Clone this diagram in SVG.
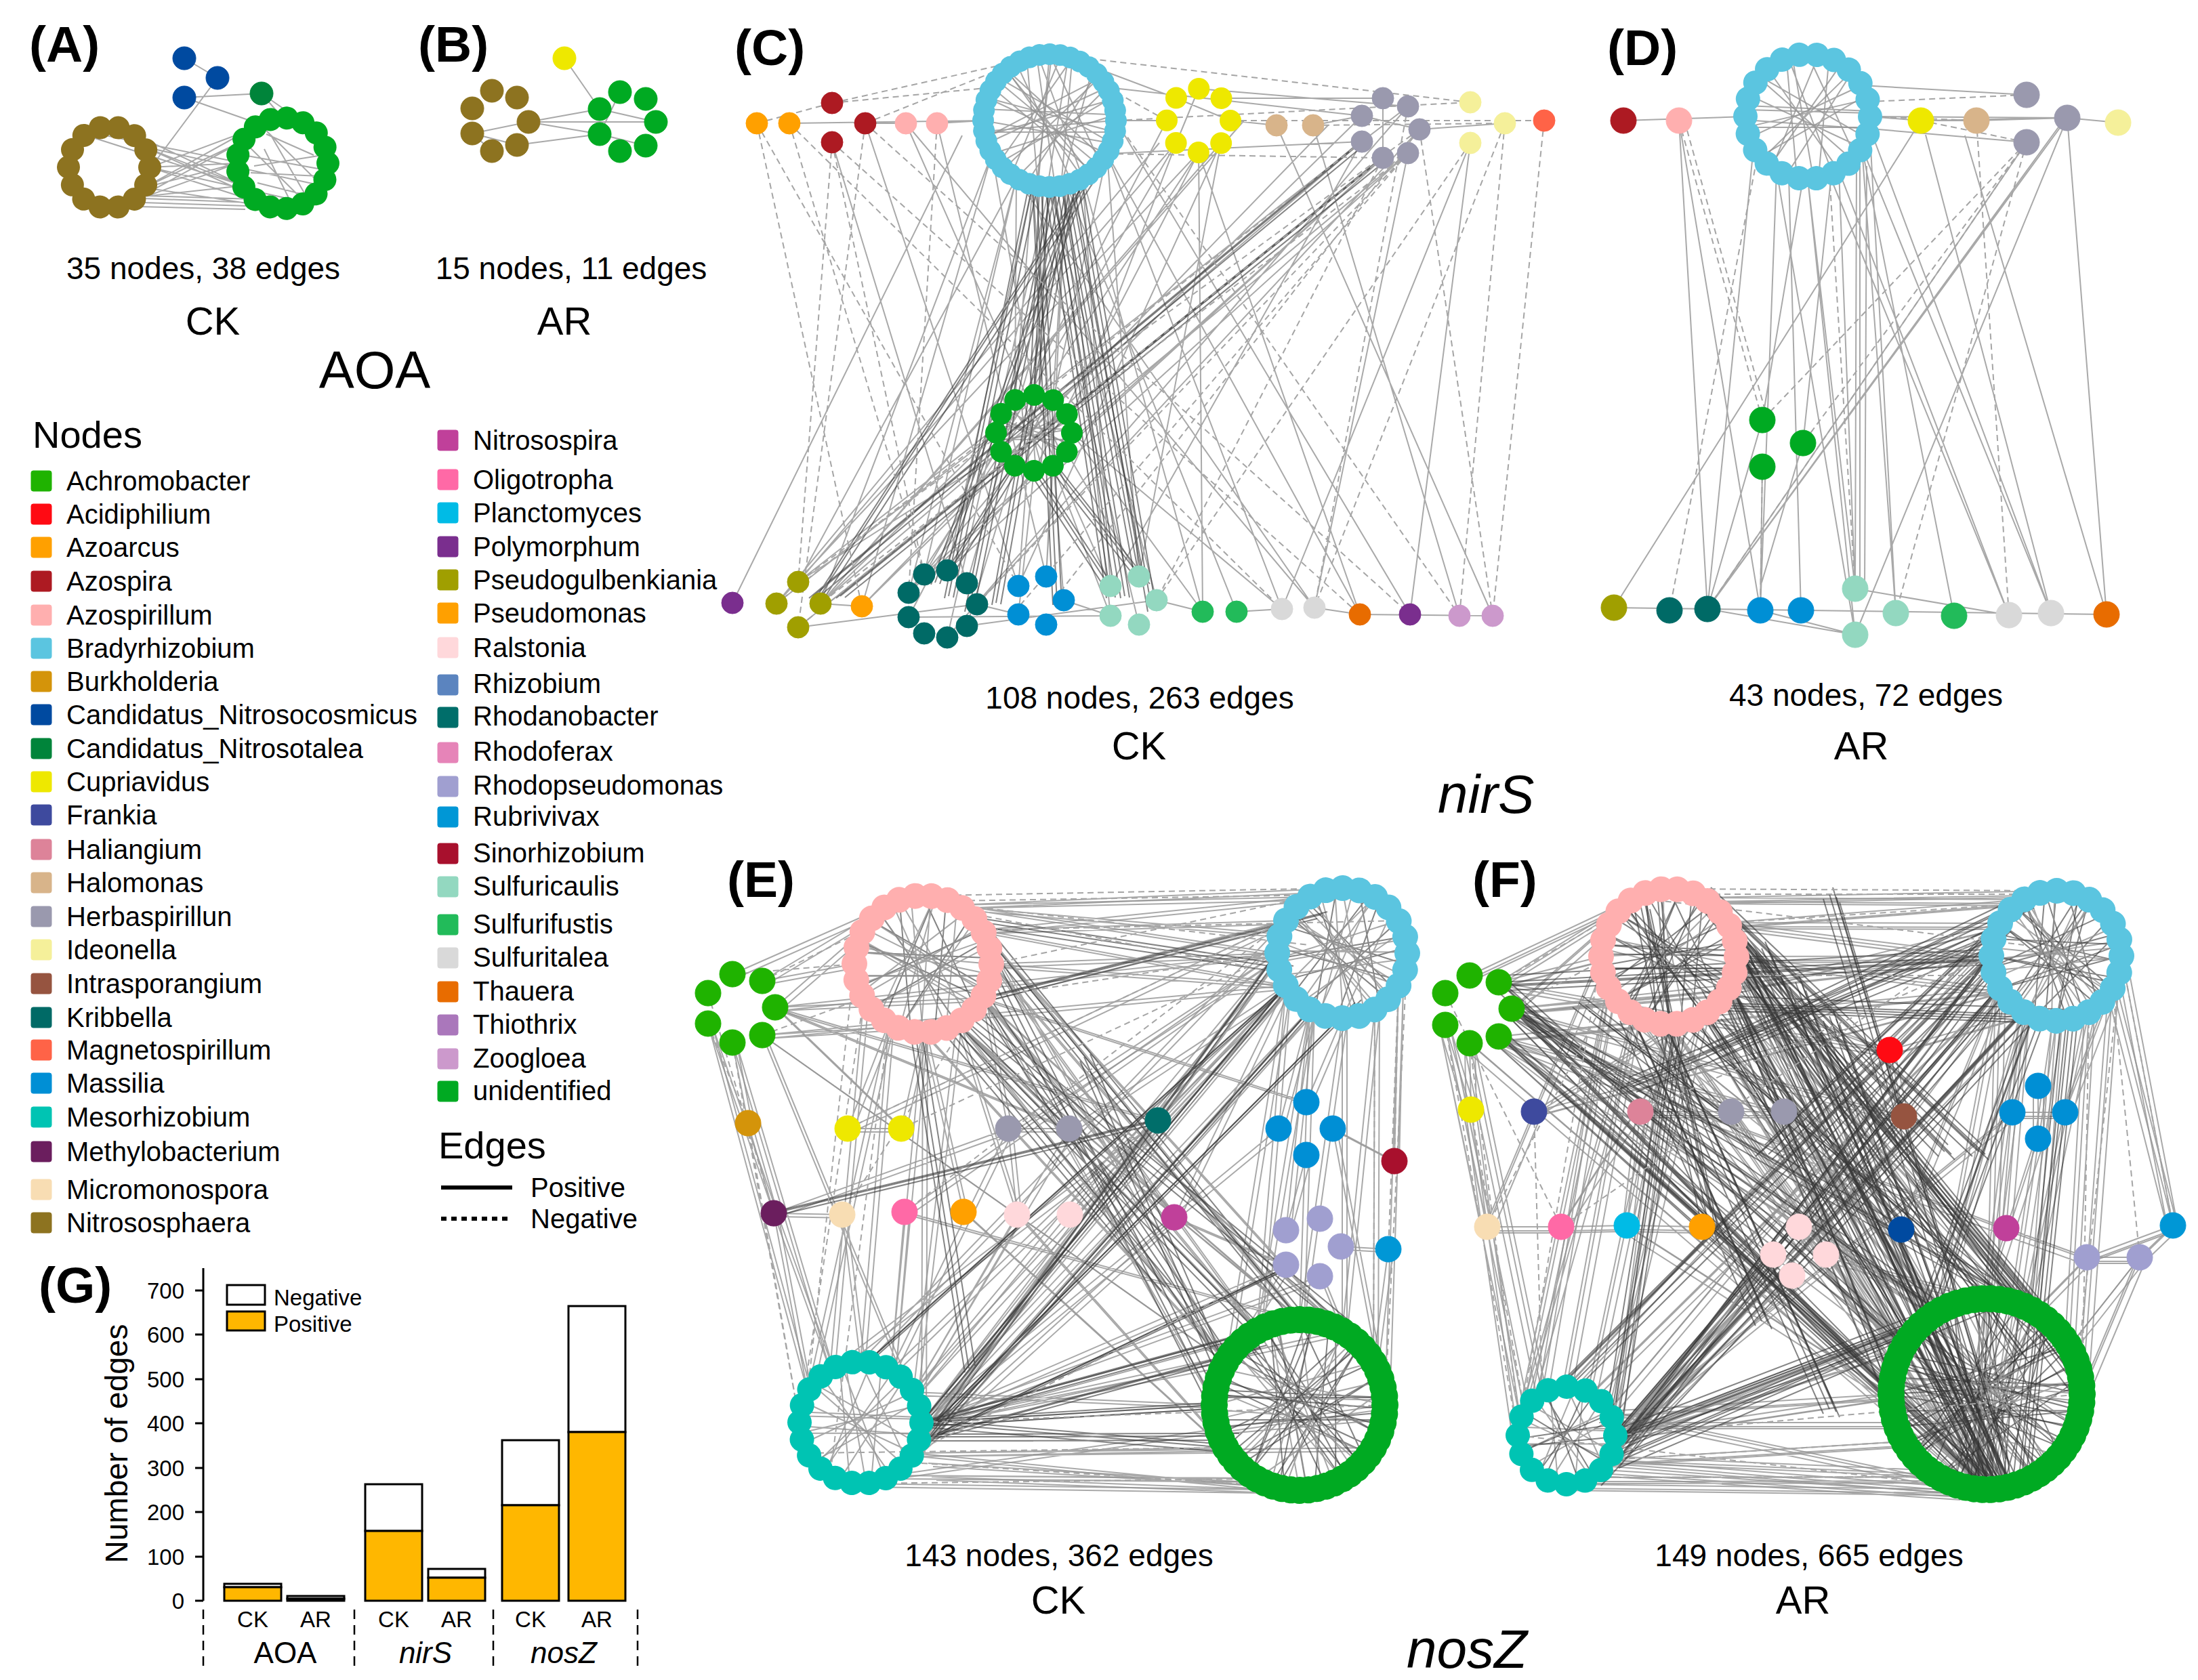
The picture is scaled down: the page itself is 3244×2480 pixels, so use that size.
<svg xmlns="http://www.w3.org/2000/svg" xmlns:xlink="http://www.w3.org/1999/xlink" width="3244" height="2480" viewBox="0 0 3244 2480">
<style>
text{font-family:"Liberation Sans",Arial,Helvetica,sans-serif;fill:#000}
.lab{font-size:75px;font-weight:bold}
.cap{font-size:46px;text-anchor:middle}
.trt{font-size:58px;text-anchor:middle}
.gene{font-size:80px;font-style:italic}
.lg{font-size:40px}
.hd{font-size:56px}
.ax{font-size:33px}
.e{stroke:#939393;stroke-width:2;fill:none;opacity:.8}
.d{stroke:#333;stroke-width:2;fill:none;opacity:.6}
.n{stroke:#a5a5a5;stroke-width:2;fill:none;stroke-dasharray:9 6}
.ach{fill:#1FB300;stroke:#1FB300}.aci{fill:#FF0A13;stroke:#FF0A13}.azo{fill:#FFA000;stroke:#FFA000}.azs{fill:#AD1A22;stroke:#AD1A22}
.azl{fill:#FFAFAF;stroke:#FFAFAF}.bra{fill:#5BC5E0;stroke:#5BC5E0}.bur{fill:#D4940A;stroke:#D4940A}.cnc{fill:#004AA0;stroke:#004AA0}
.cnt{fill:#00843A;stroke:#00843A}.cup{fill:#EEE800;stroke:#EEE800}.fra{fill:#3E4A9E;stroke:#3E4A9E}.hal{fill:#DD8399;stroke:#DD8399}
.hmo{fill:#D8B48A;stroke:#D8B48A}.her{fill:#9A99AE;stroke:#9A99AE}.ide{fill:#F5F09A;stroke:#F5F09A}.int{fill:#965440;stroke:#965440}
.kri{fill:#006A66;stroke:#006A66}.mag{fill:#FF6347;stroke:#FF6347}.mas{fill:#008FD5;stroke:#008FD5}.mes{fill:#00C4B3;stroke:#00C4B3}
.met{fill:#6B1E5E;stroke:#6B1E5E}.mic{fill:#F8DDB3;stroke:#F8DDB3}.nsp{fill:#8D7320;stroke:#8D7320}.nsi{fill:#C0409A;stroke:#C0409A}
.oli{fill:#FF69A6;stroke:#FF69A6}.pla{fill:#00BBE6;stroke:#00BBE6}.pol{fill:#7A2E8E;stroke:#7A2E8E}.psg{fill:#A09F00;stroke:#A09F00}
.psm{fill:#FFA000;stroke:#FFA000}.ral{fill:#FFD8DB;stroke:#FFD8DB}.rhi{fill:#5B84BF;stroke:#5B84BF}.rhd{fill:#006E6A;stroke:#006E6A}
.rfx{fill:#E684B8;stroke:#E684B8}.rps{fill:#A09FD0;stroke:#A09FD0}.rub{fill:#0097D6;stroke:#0097D6}.sin{fill:#A8102D;stroke:#A8102D}
.sca{fill:#93D8C0;stroke:#93D8C0}.sfu{fill:#22BB5A;stroke:#22BB5A}.sta{fill:#D9D9D9;stroke:#D9D9D9}.tha{fill:#E86C00;stroke:#E86C00}
.thi{fill:#AA77BB;stroke:#AA77BB}.zoo{fill:#CC99CC;stroke:#CC99CC}.uni{fill:#00AA22;stroke:#00AA22}
.ring{fill:none;stroke-linecap:round}
.bar{stroke:#000;stroke-width:3}
</style>
<defs>
<path id="chords" vector-effect="non-scaling-stroke" d="M0 -1L.766 .643M.342 -.94L.174 .985M.707 -.707L-.342 .94M.94 -.342L-.766 .643M.985 .174L-.985 .174M.866 .5L-.94 -.342M.5 .866L-.643 -.766M-.174 .985L-.342 -.94M-.574 .819L.174 -.985M-.94 .342L.866 -.5M-.985 -.174L.996 -.087M-.766 -.643L.94 .342"/>
<path id="chords2" vector-effect="non-scaling-stroke" d="M-.9 -.43L.82 .57M-.3 -.95L.22 .97M.6 -.8L-.72 .69M.95 .28L-.9 -.36M-.1 -.99L.05 1M.4 -.91L-.5 .86M-.97 .2L.99 -.1M.78 -.62L-.6 .8"/>
</defs>
<rect width="3244" height="2480" fill="#fff"/>

<g id="labels">
<text class="lab" x="43" y="91">(A)</text>
<text class="lab" x="617" y="91">(B)</text>
<text class="lab" x="1084" y="96">(C)</text>
<text class="lab" x="2372" y="96">(D)</text>
<text class="lab" x="1073" y="1324">(E)</text>
<text class="lab" x="2173" y="1324">(F)</text>
<text class="lab" x="57" y="1923">(G)</text>
<text class="cap" x="300" y="412">35 nodes, 38 edges</text>
<text class="cap" x="843" y="412">15 nodes, 11 edges</text>
<text class="trt" x="314" y="494">CK</text>
<text class="trt" x="833" y="494">AR</text>
<text x="553" y="573" style="font-size:78px;text-anchor:middle">AOA</text>
<text class="cap" x="1682" y="1046">108 nodes, 263 edges</text>
<text class="trt" x="1681" y="1121">CK</text>
<text class="cap" x="2754" y="1042">43 nodes, 72 edges</text>
<text class="trt" x="2747" y="1121">AR</text>
<text class="gene" x="2122" y="1200">nirS</text>
<text class="cap" x="1563" y="2312">143 nodes, 362 edges</text>
<text class="trt" x="1562" y="2382">CK</text>
<text class="cap" x="2670" y="2312">149 nodes, 665 edges</text>
<text class="trt" x="2661" y="2382">AR</text>
<text class="gene" x="2076" y="2462">nosZ</text>
</g>

<g id="connectors">
<g id="edges-A">
<path class="e" d="M272 86L321 115M321 115L228 240M272 144L386 138M272 144L383 183M386 138L417 174M386 138L451 183M221 247L350 241M213 217L359 274M213 277L359 208M221 247L383 299M191 195L359 274M213 277L350 241M140 204L359 274M191 299L359 208M213 277L417 308M213 293L370 299M210 299L365 304M205 305L362 309M213 289L375 294M221 247L451 299M213 217L475 274M131 195L359 241M383 183L475 274M359 208L451 299M393 198L463 229M375 245L470 230M370 255L470 260M380 270L460 290M390 220L430 300M400 200L455 295M365 230L475 250M213 277L383 183M191 299L350 241M221 247L417 174M131 299L359 274M213 217L417 308"/>
</g>
<g id="edges-B">
<path class="e" d="M833 86L885 161M780 180L885 161M780 180L968 180M780 180L885 198M697 197L780 180M697 197L763 214M763 214L885 198M885 161L968 180M885 198L953 215M915 136L885 198M726 223L697 197"/>
</g>
<g id="edges-C">
<path id="Ce" class="e" d="M1165 182L1451 178M1277 182L1337 182M1383 182L1451 178M1647 178L1722 178M1816 178L1884 185M1938 185L2010 171M1634 129L2010 171M1634 227L2010 209M1769 131L2078 157M2095 191L2221 182M1598 93L1736 145M1802 145L2041 145M1500 263L1364 848M1524 273L1398 842M1549 276L1503 865M1574 273L1544 851M1598 263L1639 865M1634 227L1681 851M1524 273L1681 922M1549 276L1707 886M1500 263L1178 859M1464 227L1211 891M1598 263L1775 903M1574 273L1825 903M1634 227L1892 899M1549 276L1526 583M1524 273L1498 591M1574 273L1554 591M1500 263L1341 875M1598 263L1427 861M1549 276L1398 941M1574 273L1639 909M1524 273L1570 886M1464 227L1272 895M1634 227L2007 907M1647 178L2081 907M1736 211L1364 848M1769 225L1341 875M1736 211L1178 859M1769 225L1146 891M1802 211L1503 865M1722 178L1341 911M1769 225L1526 695M1736 211L1554 687M1802 211L1681 851M1769 225L1775 903M2010 209L1178 859M2010 209L1211 891M2041 233L1341 875M2041 233L1364 848M2078 226L1398 842M2010 171L1272 895M2095 191L1442 892M2078 226L1582 639M2041 233L1574 611M2010 209L1639 865M2078 226L1940 897M2170 211L1892 899M2170 211L2081 907M1938 185L2154 909M1884 185L2203 909M1769 225L2007 907M1277 182L1503 865M1337 182L1639 865M1383 182L1544 851M1228 210L1427 861M1081 890L1420 200M1526 695L1398 842M1498 687L1341 875M1554 687L1544 851M1574 667L1681 851M1478 667L1178 859M1470 639L1211 891M1582 639L1775 903M1554 687L1639 909M1526 695L1503 907M1498 687L1427 924M1582 639L1892 899M1470 639L1146 891M1526 583L1464 227M1554 591L1634 227M1498 591L1500 263M1337 182L1940 897M1178 926L1442 892M1211 891L1272 895M1442 892L1503 907M1570 886L1639 909M1707 886L1775 903M1825 903L1892 899M1940 897L2007 907M2007 907L2203 909M1341 911L1639 909M1427 924L1707 886M1211 891L1802 211M1178 926L2041 233M1398 941L2078 157M1940 897L1500 263M1736 145L1816 178M1769 131L1736 211M2041 145L2041 233M2010 171L2095 191M2078 157L2010 209M1146 891L1711 211M1211 891L1836 178M1272 895L1960 185M1178 859L1500 263"/>
<use class="e" xlink:href="#chords" href="#chords" transform="translate(1549 178) scale(98)"/>
<use class="e" xlink:href="#chords" href="#chords" transform="translate(1549 178) scale(98) rotate(40)"/>
<use class="e" xlink:href="#chords2" href="#chords2" transform="translate(1549 178) scale(98) rotate(-35)"/>
<use class="e" xlink:href="#chords" href="#chords" transform="translate(1526 639) scale(56)"/>
<use class="e" xlink:href="#chords2" href="#chords2" transform="translate(1526 639) scale(56)"/>
<path id="Cd" class="d" d="M1549 276L1639 880M1560 276L1660 880M1540 276L1526 583M1524 273L1400 880M1574 273L1681 851M1600 260L1380 860M1526 695L1640 870M1498 687L1400 845M1554 687L1690 860M1650 200L1210 880M2010 209L1200 880M2041 233L1240 880M1530 276L1560 890M1580 270L1470 890M1560 270L1430 900M1590 265L1700 900"/>
<use xlink:href="#Cd" href="#Cd" transform="translate(7,2)"/>
<use xlink:href="#Cd" href="#Cd" transform="translate(-6,3)"/>
<path class="n" d="M1117 182L1272 895M1165 182L1364 848M1228 210L1178 859M1228 152L1464 129M1277 182L1500 93M1228 152L1549 80M1228 210L2007 907M1277 182L2081 907M1165 182L1892 899M1117 182L1503 865M2279 178L2203 909M2221 182L2154 909M2170 211L1707 886M2221 182L1940 897M1647 178L2154 909M2010 209L1146 891M2041 233L1178 926M2078 226L1211 891M2095 191L1178 859M2078 226L1442 892M1647 178L2170 151M1549 80L2170 151M1634 227L2041 233M1722 178L1634 129M1816 178L2279 178M1938 185L2221 182M1383 182L1341 875M1228 210L1364 848M1277 182L1178 926M2078 157L1940 897M2095 191L2203 909M2041 233L1707 886M2078 226L1500 900M2095 191L1560 880M1117 182L1228 152"/>
</g>
<g id="edges-D">
<path class="e" d="M2396 178L2576 172M2760 172L2835 178M2835 178L2917 178M2748 126L2991 140M2760 172L3051 174M2917 178L3051 174M2835 178L3051 174M3051 174L3126 181M2991 210L2760 190M2478 178L2598 901M2478 178L2520 899M2622 252L2598 901M2640 260L2658 901M2668 264L2738 937M2668 264L2738 869M2714 252L2738 869M2740 240L2738 869M2748 218L2798 905M2760 200L2798 905M2714 252L2965 908M2748 218L3027 905M2760 190L3027 905M2842 199L3027 905M2900 200L3109 907M3051 174L2520 899M3040 185L2520 899M2991 210L2520 899M3051 174L2738 937M2382 897L2835 178M2601 620L2660 270M2661 654L2703 257M2601 689L2598 901M2661 654L2600 860M2601 620L2520 899M2382 897L3109 907M2520 899L2738 937M2738 869L2965 908M2588 218L2520 899M2622 252L2738 937M2748 218L2884 909M2700 258L2965 908M3051 174L3109 907M2745 245L2745 869M2755 245L2752 869M2598 901L2738 937"/>
<use class="e" xlink:href="#chords" href="#chords" transform="translate(2668 172) scale(92)"/>
<use class="e" xlink:href="#chords2" href="#chords2" transform="translate(2668 172) scale(92) rotate(50)"/>
<path class="n" d="M2478 178L2601 620M2486 178L2609 620M2590 250L2464 901M2601 689L2598 901M2700 258L2738 869M2991 210L2601 620M2991 210L2661 654M2917 178L2965 908M2760 172L2917 178M2991 140L2760 150M2835 178L2991 210M2991 210L2798 905M2991 210L2520 899"/>
</g>
<g id="edges-E">
<path id="Ee" class="e" d="M1412 1336L1933 1324M1449 1373L1898 1359M1412 1336L1981 1311M1463 1423L1885 1407M1449 1373L1933 1324M1430 1340L1900 1380M1449 1473L1898 1359M1463 1423L1898 1455M1412 1336L1885 1407M1449 1373L1898 1455M1449 1473L1855 1965M1412 1510L1809 2011M1463 1423L1918 1948M1449 1473L1792 2074M1412 1510L1855 1965M1362 1524L1809 2011M1449 1373L1809 2011M1463 1423L1855 1965M1412 1336L1981 1965M1449 1473L1981 1965M1412 1510L1918 1948M1449 1373L1918 1948M1312 1510L1270 2010M1362 1524L1315 2022M1275 1473L1225 2022M1412 1510L1348 2055M1362 1524L1360 2100M1312 1510L1192 2055M1449 1473L1488 1666M1412 1510L1578 1666M1362 1524L1330 1666M1312 1510L1251 1666M1449 1473L1733 1797M1412 1510L1501 1793M1362 1524L1422 1789M1898 1455L1360 2100M1885 1407L1348 2055M1933 1490L1360 2100M1898 1455L1315 2022M1898 1359L1270 2010M1933 1490L1348 2145M1885 1407L1315 2178M1933 1490L1918 1948M1981 1503L1981 1965M2029 1490L2027 2011M1898 1455L1855 1965M2064 1455L2044 2074M1933 1490L1855 1965M1981 1503L1918 1948M1898 1455L1809 2011M2029 1490L1981 1965M1898 1455L1709 1654M1933 1490L1887 1666M1898 1455L1578 1666M1885 1407L1488 1666M1981 1503L1928 1627M1933 1490L1898 1816M1898 1455L1733 1797M1885 1407L1335 1789M1898 1359L1251 1666M1360 2100L1792 2074M1348 2145L1809 2137M1315 2178L1855 2183M1360 2100L1809 2011M1348 2145L1918 2200M1270 2190L1918 2200M1315 2178L1981 2183M1360 2100L1855 1965M1348 2055L1792 2074M1360 2100L1918 1948M1360 2100L1981 1965M1360 2100L1898 1867M1360 2100L1948 1884M1360 2100L1885 1407M1360 2100L1933 1490M1348 2055L1898 1455M1348 2145L2027 2137M1315 2178L2044 2074M1315 2022L1335 1789M1348 2055L1501 1793M1270 2010L1243 1793M1225 2022L1142 1791M1348 2055L1578 1666M1360 2100L1709 1654M1315 2022L1488 1666M1125 1448L1261 1423M1144 1487L1275 1373M1125 1448L1312 1336M1144 1487L1449 1473M1125 1528L1412 1510M1144 1487L1885 1407M1125 1528L1898 1455M1081 1539L1104 1658M1045 1511L1142 1791M1081 1539L1225 2022M1045 1511L1192 2055M1144 1487L1578 1666M1125 1528L1809 2011M1081 1438L1312 1336M1144 1487L1709 1654M1104 1658L1142 1791M1142 1791L1243 1793M1142 1791L1488 1666M1142 1791L1192 2055M1251 1666L1330 1666M1488 1666L1578 1666M1488 1666L1501 1793M1578 1666L1918 1948M1709 1654L1898 1455M1709 1654L1225 2022M1733 1797L1898 1867M1733 1797L1348 2145M1422 1789L1855 2183M1501 1793L1809 2137M1579 1793L1898 1455M1335 1789L1981 1965M1243 1793L1270 2010M2058 1714L2064 1455M2058 1714L1967 1666M2049 1844L1979 1840M2049 1844L2027 2011M1928 1705L1898 1816M1948 1884L1981 1965M1898 1867L1809 2011M1887 1666L1360 2100M1928 1627L1449 1473M1967 1666L2044 2074M1375 2180L1900 2200M1370 2160L1960 2195M1144 1487L1330 1666M1125 1528L1360 2100"/>
<use xlink:href="#Ee" href="#Ee" transform="translate(7,5)"/>
<use class="d" xlink:href="#chords" href="#chords" transform="translate(1362 1423) scale(101)"/>
<use class="e" xlink:href="#chords" href="#chords" transform="translate(1362 1423) scale(101) rotate(30)"/>
<use class="e" xlink:href="#chords2" href="#chords2" transform="translate(1362 1423) scale(101) rotate(75)"/>
<use class="d" xlink:href="#chords" href="#chords" transform="translate(1981 1407) scale(96) rotate(15)"/>
<use class="e" xlink:href="#chords" href="#chords" transform="translate(1981 1407) scale(96) rotate(50)"/>
<use class="e" xlink:href="#chords2" href="#chords2" transform="translate(1981 1407) scale(96) rotate(95)"/>
<use class="e" xlink:href="#chords" href="#chords" transform="translate(1270 2100) scale(90)"/>
<use class="e" xlink:href="#chords2" href="#chords2" transform="translate(1270 2100) scale(90) rotate(50)"/>
<use class="d" xlink:href="#chords" href="#chords" transform="translate(1918 2074) scale(126)"/>
<use class="d" xlink:href="#chords" href="#chords" transform="translate(1918 2074) scale(126) rotate(25)"/>
<use class="e" xlink:href="#chords2" href="#chords2" transform="translate(1918 2074) scale(126) rotate(50)"/>
<use class="e" xlink:href="#chords" href="#chords" transform="translate(1918 2074) scale(126) rotate(80)"/>
<use class="d" xlink:href="#chords2" href="#chords2" transform="translate(1918 2074) scale(126) rotate(110)"/>
<path id="Ed" class="d" d="M1449 1473L1809 2011M1412 1510L1855 1965M1463 1423L1792 2074M1898 1455L1360 2100M1885 1407L1348 2145M1360 2100L1809 2137M1360 2100L1792 2074M1360 2100L1855 1965M1449 1373L1918 1948M1430 1500L1990 1960M1400 1520L1720 1900M1600 1560L1800 2020M1898 1455L1280 2010M1142 1791L1709 1654M1374 2121L1930 1495M1374 2121L1900 1870M1374 2121L1860 1990M1374 2121L1820 2120M1440 1360L1900 1430M1430 1480L1950 1350M1370 2110L2000 1480M1350 1520L1430 2020"/>
<use xlink:href="#Ed" href="#Ed" transform="translate(-6,6)"/>
<use xlink:href="#Ed" href="#Ed" transform="translate(9,-4)"/>
<path class="n" d="M1400 1330L2020 1320M1449 1373L2064 1359M1463 1423L1933 1324M1380 1322L1981 1311M1449 1473L1885 1407M1081 1539L1180 2100M1045 1466L1142 1791M1045 1511L1104 1658M1081 1438L1261 1423M1125 1448L1275 1373M1125 1528L1275 1473M1275 1473L1180 2100M1261 1423L1192 2055M1312 1510L1225 2178M2077 1407L2044 2074M2064 1455L2058 1714M2064 1455L2049 1844M2029 1490L2027 2011M1885 1407L1330 1666M1898 1359L1335 1789M1192 2145L1809 2137M1270 2190L1855 2183M1360 2100L2044 2074M1348 2145L1898 1867M1251 1666L1898 1359M1104 1658L1180 2100M1243 1793L1449 1473M1360 2160L1900 2195M1412 1336L1933 1395M1440 1350L1910 1440"/>
</g>
<g id="edges-F">
<path id="Fe" class="e" d="M2513 1325L2987 1328M2550 1362L2952 1363M2563 1412L2939 1411M2550 1362L2987 1328M2513 1325L3035 1315M2550 1462L2952 1363M2563 1412L2952 1459M2550 1362L2939 1411M2550 1462L2862 1936M2513 1499L2810 1988M2563 1412L2932 1917M2550 1462L2791 2058M2513 1499L2862 1936M2463 1512L2810 1988M2550 1362L2810 1988M2563 1412L2862 1936M2550 1462L2932 2199M2513 1499L2932 2199M2463 1512L2932 2199M2413 1499L2932 2199M2550 1462L3002 1936M2563 1412L3054 1988M2413 1499L2312 2047M2463 1512L2348 2057M2376 1462L2276 2057M2513 1499L2374 2083M2463 1512L2384 2119M2413 1499L2250 2083M2376 1462L2240 2119M2952 1459L2384 2119M2939 1411L2374 2083M2987 1494L2384 2119M2952 1459L2348 2057M2952 1363L2312 2047M2987 1494L2374 2155M2939 1411L2348 2181M2987 1494L2932 1917M3035 1507L3002 1936M3083 1494L3054 1988M2952 1459L2862 1936M3118 1459L3073 2058M2987 1494L2862 1936M3035 1507L2932 2199M2952 1459L2932 2199M3083 1494L2932 2199M2384 2119L2791 2058M2374 2155L2810 2128M2348 2181L2862 2180M2384 2119L2810 1988M2374 2155L2932 2199M2312 2191L2932 2199M2348 2181L3002 2180M2384 2119L2862 1936M2374 2083L2791 2058M2384 2119L2932 1917M2374 2083L2932 2199M2212 1450L2363 1412M2231 1489L2376 1362M2212 1450L2413 1325M2231 1489L2550 1462M2212 1530L2513 1499M2231 1489L2939 1411M2212 1530L2952 1459M2212 1530L2862 1936M2231 1489L2932 2199M2169 1540L2171 1638M2133 1513L2195 1811M2169 1540L2276 2057M2133 1513L2250 2083M2231 1489L2555 1641M2212 1530L2810 1988M2169 1440L2413 1325M2231 1489L2810 1648M2212 1530L2961 1813M2212 1450L2789 1550M2231 1489L2791 2058M2212 1530L2633 1641M2169 1540L2932 2199M2171 1638L2195 1811M2195 1811L2240 2119M2195 1811L2304 1811M2304 1811L2401 1809M2401 1809L2512 1811M2421 1641L2555 1641M2555 1641L2633 1641M2421 1641L2401 1809M2421 1641L2862 1936M2264 1641L2550 1462M2555 1641L2932 2199M2633 1641L2862 1936M2789 1550L2810 1648M2789 1550L2550 1462M2789 1550L2987 1494M2810 1648L2952 1459M2810 1648L2384 2119M2655 1811L2810 1988M2617 1852L2374 2155M2695 1852L2932 1917M2645 1883L2348 2181M2806 1815L2413 1499M2806 1815L2952 1459M2961 1813L2987 1494M2961 1813L3080 1856M3080 1856L3158 1856M3158 1856L3207 1809M3080 1856L3207 1809M3207 1809L3118 1459M3158 1856L3054 1988M3158 1856L3073 2058M3080 1856L3002 1936M3008 1603L3008 1681M2970 1642L3048 1642M3008 1681L2932 1917M2970 1642L2384 2119M3048 1642L3118 1459M2512 1811L2932 2199M2401 1809L2791 2058M2304 1811L2563 1412M2195 1811L2363 1412M2171 1638L2133 1513M2264 1641L2952 1459M3207 1809L3131 1411M2380 2150L2840 2170M2370 2170L2900 2205M2360 2100L2800 2100"/>
<use xlink:href="#Fe" href="#Fe" transform="translate(8,6)"/>
<use xlink:href="#Fe" href="#Fe" transform="translate(-7,9)"/>
<use class="d" xlink:href="#chords" href="#chords" transform="translate(2463 1412) scale(100)"/>
<use class="d" xlink:href="#chords" href="#chords" transform="translate(2463 1412) scale(100) rotate(30)"/>
<use class="e" xlink:href="#chords2" href="#chords2" transform="translate(2463 1412) scale(100) rotate(60)"/>
<use class="d" xlink:href="#chords2" href="#chords2" transform="translate(2463 1412) scale(100) rotate(95)"/>
<use class="d" xlink:href="#chords" href="#chords" transform="translate(3035 1411) scale(96) rotate(10)"/>
<use class="e" xlink:href="#chords2" href="#chords2" transform="translate(3035 1411) scale(96) rotate(40)"/>
<use class="d" xlink:href="#chords" href="#chords" transform="translate(3035 1411) scale(96) rotate(70)"/>
<use class="e" xlink:href="#chords2" href="#chords2" transform="translate(3035 1411) scale(96) rotate(100)"/>
<use class="e" xlink:href="#chords" href="#chords" transform="translate(2312 2119) scale(72)"/>
<use class="d" xlink:href="#chords2" href="#chords2" transform="translate(2312 2119) scale(72) rotate(40)"/>
<use class="d" xlink:href="#chords" href="#chords" transform="translate(2932 2058) scale(141)"/>
<use class="d" xlink:href="#chords2" href="#chords2" transform="translate(2932 2058) scale(141) rotate(20)"/>
<use class="d" xlink:href="#chords" href="#chords" transform="translate(2932 2058) scale(141) rotate(40)"/>
<use class="d" xlink:href="#chords2" href="#chords2" transform="translate(2932 2058) scale(141) rotate(60)"/>
<use class="d" xlink:href="#chords" href="#chords" transform="translate(2932 2058) scale(141) rotate(80)"/>
<use class="e" xlink:href="#chords2" href="#chords2" transform="translate(2932 2058) scale(141) rotate(100)"/>
<use class="e" xlink:href="#chords" href="#chords" transform="translate(2932 2058) scale(141) rotate(130)"/>
<path id="Fd" class="d" d="M2550 1462L2932 2199M2513 1499L2950 2195M2563 1412L2960 2195M2550 1362L2940 2195M2231 1489L2932 2199M2212 1530L2950 2195M2231 1489L2862 1936M2212 1450L2810 1988M2952 1459L2384 2119M2939 1411L2374 2155M2987 1494L2348 2181M2513 1325L3054 1988M2550 1362L3073 2058M2563 1412L3002 1936M2384 2119L2862 1936M2374 2155L2932 1917M2550 1462L2791 2058M2400 1500L2600 1950M2450 1515L2700 2080M2700 1500L2950 2190M2650 1450L2930 2199M2600 1400L2960 2195M2952 1363L2600 1700M2987 1328L2500 1560M2939 1411L2300 2050M2520 1320L2920 1700M2530 1500L2800 1800M2420 1330L2520 1800M2470 1520L2380 2080M3000 1500L2830 1960M3050 1505L2980 2180M2212 1450L2939 1411M2231 1489L3002 1936M2212 1530L2791 2058M2530 1480L3040 1500M2560 1430L2980 2000M2480 1510L3010 1960M2330 1480L2550 1650M2560 1380L2870 1700M2940 1380L2400 1600M2700 1320L2950 2150"/>
<use xlink:href="#Fd" href="#Fd" transform="translate(10,4)"/>
<use xlink:href="#Fd" href="#Fd" transform="translate(-9,7)"/>
<use xlink:href="#Fd" href="#Fd" transform="translate(5,-10)"/>
<use xlink:href="#Fd" href="#Fd" transform="translate(15,12)"/>
<path class="n" d="M2463 1312L3035 1315M2500 1320L3000 1320M2550 1362L3083 1328M2363 1412L2240 2119M2376 1462L2195 1811M2133 1513L2240 2119M2169 1540L2250 2155M2212 1450L2363 1362M2231 1489L2376 1412M2133 1466L2304 1811M3131 1411L3207 1809M3118 1459L3158 1856M3083 1494L3073 2058M3131 1411L3054 2128M2939 1411L2421 1641M2952 1363L2304 1811M2384 2119L3073 2058M2348 2181L3002 2180M2240 2119L2932 2199M2276 2181L2862 2180M2374 2155L2810 2128M2171 1638L2250 2083M2264 1641L2276 2057M2413 1325L2987 1395M2560 1440L2940 1440"/>
</g>
</g>

<g id="nodes-A">
<g id="A-Nitrososphaera"><circle class="nsp ring" cx="161" cy="247" r="60" stroke-width="34" stroke-dasharray="0.01 26.9"/></g>
<g id="A-unidentified"><circle class="uni ring" cx="417" cy="241" r="67" stroke-width="34" stroke-dasharray="0.01 24.74"/></g>
<g id="A-Nitrosocosmicus"><circle class="cnc" cx="272" cy="86" r="17"/><circle class="cnc" cx="321" cy="115" r="17"/><circle class="cnc" cx="272" cy="144" r="17"/></g>
<g id="A-Nitrosotalea"><circle class="cnt" cx="386" cy="138" r="17"/></g>
</g>
<g id="nodes-B">
<g id="B-Cupriavidus"><circle class="cup" cx="833" cy="86" r="17"/></g>
<g id="B-Nitrososphaera"><circle class="nsp" cx="726" cy="134" r="17"/><circle class="nsp" cx="763" cy="144" r="17"/><circle class="nsp" cx="697" cy="160" r="17"/><circle class="nsp" cx="780" cy="180" r="17"/><circle class="nsp" cx="697" cy="197" r="17"/><circle class="nsp" cx="763" cy="214" r="17"/><circle class="nsp" cx="726" cy="223" r="17"/></g>
<g id="B-unidentified"><circle class="uni" cx="915" cy="136" r="17"/><circle class="uni" cx="953" cy="146" r="17"/><circle class="uni" cx="885" cy="161" r="17"/><circle class="uni" cx="968" cy="180" r="17"/><circle class="uni" cx="885" cy="198" r="17"/><circle class="uni" cx="953" cy="215" r="17"/><circle class="uni" cx="915" cy="223" r="17"/></g>
</g>
<g id="nodes-C">
<g id="C-Azoarcus"><circle class="azo" cx="1117" cy="182" r="16"/><circle class="azo" cx="1165" cy="182" r="16"/></g>
<g id="C-Azospira"><circle class="azs" cx="1228" cy="152" r="16"/><circle class="azs" cx="1277" cy="182" r="16"/><circle class="azs" cx="1228" cy="210" r="16"/></g>
<g id="C-Azospirillum"><circle class="azl" cx="1337" cy="182" r="16"/><circle class="azl" cx="1383" cy="182" r="16"/></g>
<g id="C-Bradyrhizobium"><circle class="bra ring" cx="1549" cy="178" r="98" stroke-width="32" stroke-dasharray="0.01 15.37"/></g>
<g id="C-Cupriavidus"><circle class="cup ring" cx="1769" cy="178" r="47" stroke-width="32" stroke-dasharray="0.01 36.9"/></g>
<g id="C-Halomonas"><circle class="hmo" cx="1884" cy="185" r="16"/><circle class="hmo" cx="1938" cy="185" r="16"/></g>
<g id="C-Herbaspirillun"><circle class="her" cx="2041" cy="145" r="16"/><circle class="her" cx="2078" cy="157" r="16"/><circle class="her" cx="2010" cy="171" r="16"/><circle class="her" cx="2095" cy="191" r="16"/><circle class="her" cx="2010" cy="209" r="16"/><circle class="her" cx="2078" cy="226" r="16"/><circle class="her" cx="2041" cy="233" r="16"/></g>
<g id="C-Ideonella"><circle class="ide" cx="2170" cy="151" r="16"/><circle class="ide" cx="2170" cy="211" r="16"/><circle class="ide" cx="2221" cy="182" r="16"/></g>
<g id="C-Magnetospirillum"><circle class="mag" cx="2279" cy="178" r="16"/></g>
<g id="C-unidentified"><circle class="uni ring" cx="1526" cy="639" r="56" stroke-width="32" stroke-dasharray="0.01 29.3"/></g>
<g id="C-Polymorphum"><circle class="pol" cx="1081" cy="890" r="16"/><circle class="pol" cx="2081" cy="907" r="16"/></g>
<g id="C-Pseudogulbenkiania"><circle class="psg" cx="1178" cy="859" r="16"/><circle class="psg" cx="1146" cy="891" r="16"/><circle class="psg" cx="1211" cy="891" r="16"/><circle class="psg" cx="1178" cy="926" r="16"/></g>
<g id="C-Pseudomonas"><circle class="psm" cx="1272" cy="895" r="16"/></g>
<g id="C-Kribbella"><circle class="kri" cx="1364" cy="848" r="16"/><circle class="kri" cx="1398" cy="842" r="16"/><circle class="kri" cx="1427" cy="861" r="16"/><circle class="kri" cx="1442" cy="892" r="16"/><circle class="kri" cx="1427" cy="924" r="16"/><circle class="kri" cx="1398" cy="941" r="16"/><circle class="kri" cx="1364" cy="935" r="16"/><circle class="kri" cx="1341" cy="911" r="16"/><circle class="kri" cx="1341" cy="875" r="16"/></g>
<g id="C-Massilia"><circle class="mas" cx="1503" cy="865" r="16"/><circle class="mas" cx="1544" cy="851" r="16"/><circle class="mas" cx="1570" cy="886" r="16"/><circle class="mas" cx="1544" cy="922" r="16"/><circle class="mas" cx="1503" cy="907" r="16"/></g>
<g id="C-Sulfuricaulis"><circle class="sca" cx="1639" cy="865" r="16"/><circle class="sca" cx="1681" cy="851" r="16"/><circle class="sca" cx="1707" cy="886" r="16"/><circle class="sca" cx="1681" cy="922" r="16"/><circle class="sca" cx="1639" cy="909" r="16"/></g>
<g id="C-Sulfurifustis"><circle class="sfu" cx="1775" cy="903" r="16"/><circle class="sfu" cx="1825" cy="903" r="16"/></g>
<g id="C-Sulfuritalea"><circle class="sta" cx="1892" cy="899" r="16"/><circle class="sta" cx="1940" cy="897" r="16"/></g>
<g id="C-Thauera"><circle class="tha" cx="2007" cy="907" r="16"/></g>
<g id="C-Zoogloea"><circle class="zoo" cx="2154" cy="909" r="16"/><circle class="zoo" cx="2203" cy="909" r="16"/></g>
</g>
<g id="nodes-D">
<g id="D-Azospira"><circle class="azs" cx="2396" cy="178" r="19"/></g>
<g id="D-Azospirillum"><circle class="azl" cx="2478" cy="178" r="19"/></g>
<g id="D-Bradyrhizobium"><circle class="bra ring" cx="2668" cy="172" r="92" stroke-width="36" stroke-dasharray="0.01 26.25"/></g>
<g id="D-Cupriavidus"><circle class="cup" cx="2835" cy="178" r="19"/></g>
<g id="D-Halomonas"><circle class="hmo" cx="2917" cy="178" r="19"/></g>
<g id="D-Herbaspirillun"><circle class="her" cx="2991" cy="140" r="19"/><circle class="her" cx="2991" cy="210" r="19"/><circle class="her" cx="3051" cy="174" r="19"/></g>
<g id="D-Ideonella"><circle class="ide" cx="3126" cy="181" r="19"/></g>
<g id="D-unidentified"><circle class="uni" cx="2601" cy="620" r="19"/><circle class="uni" cx="2661" cy="654" r="19"/><circle class="uni" cx="2601" cy="689" r="19"/></g>
<g id="D-Pseudogulbenkiania"><circle class="psg" cx="2382" cy="897" r="19"/></g>
<g id="D-Kribbella"><circle class="kri" cx="2464" cy="901" r="19"/><circle class="kri" cx="2520" cy="899" r="19"/></g>
<g id="D-Massilia"><circle class="mas" cx="2598" cy="901" r="19"/><circle class="mas" cx="2658" cy="901" r="19"/></g>
<g id="D-Sulfuricaulis"><circle class="sca" cx="2738" cy="869" r="19"/><circle class="sca" cx="2798" cy="905" r="19"/><circle class="sca" cx="2738" cy="937" r="19"/></g>
<g id="D-Sulfurifustis"><circle class="sfu" cx="2884" cy="909" r="19"/></g>
<g id="D-Sulfuritalea"><circle class="sta" cx="2965" cy="908" r="19"/><circle class="sta" cx="3027" cy="905" r="19"/></g>
<g id="D-Thauera"><circle class="tha" cx="3109" cy="907" r="19"/></g>
</g>
<g id="nodes-E">
<g id="E-Azospirillum"><circle class="azl ring" cx="1362" cy="1423" r="101" stroke-width="38" stroke-dasharray="0.01 24.39"/></g>
<g id="E-Bradyrhizobium"><circle class="bra ring" cx="1981" cy="1407" r="96" stroke-width="38" stroke-dasharray="0.01 25.11"/></g>
<g id="E-Mesorhizobium"><circle class="mes ring" cx="1270" cy="2100" r="90" stroke-width="36" stroke-dasharray="0.01 25.68"/></g>
<g id="E-unidentified"><circle class="uni ring" cx="1918" cy="2074" r="126" stroke-width="40" stroke-dasharray="0.01 13.18"/></g>
<g id="E-Achromobacter"><circle class="ach" cx="1081" cy="1438" r="19"/><circle class="ach" cx="1125" cy="1448" r="19"/><circle class="ach" cx="1045" cy="1466" r="19"/><circle class="ach" cx="1144" cy="1487" r="19"/><circle class="ach" cx="1045" cy="1511" r="19"/><circle class="ach" cx="1125" cy="1528" r="19"/><circle class="ach" cx="1081" cy="1539" r="19"/></g>
<g id="E-Burkholderia"><circle class="bur" cx="1104" cy="1658" r="19"/></g>
<g id="E-Cupriavidus"><circle class="cup" cx="1251" cy="1666" r="19"/><circle class="cup" cx="1330" cy="1666" r="19"/></g>
<g id="E-Herbaspirillun"><circle class="her" cx="1488" cy="1666" r="19"/><circle class="her" cx="1578" cy="1666" r="19"/></g>
<g id="E-Rhodanobacter"><circle class="rhd" cx="1709" cy="1654" r="19"/></g>
<g id="E-Massilia"><circle class="mas" cx="1928" cy="1627" r="19"/><circle class="mas" cx="1887" cy="1666" r="19"/><circle class="mas" cx="1967" cy="1666" r="19"/><circle class="mas" cx="1928" cy="1705" r="19"/></g>
<g id="E-Sinorhizobium"><circle class="sin" cx="2058" cy="1714" r="19"/></g>
<g id="E-Methylobacterium"><circle class="met" cx="1142" cy="1791" r="19"/></g>
<g id="E-Micromonospora"><circle class="mic" cx="1243" cy="1793" r="19"/></g>
<g id="E-Oligotropha"><circle class="oli" cx="1335" cy="1789" r="19"/></g>
<g id="E-Pseudomonas"><circle class="psm" cx="1422" cy="1789" r="19"/></g>
<g id="E-Ralstonia"><circle class="ral" cx="1501" cy="1793" r="19"/><circle class="ral" cx="1579" cy="1793" r="19"/></g>
<g id="E-Nitrosospira"><circle class="nsi" cx="1733" cy="1797" r="19"/></g>
<g id="E-Rhodopseudomonas"><circle class="rps" cx="1898" cy="1816" r="19"/><circle class="rps" cx="1948" cy="1799" r="19"/><circle class="rps" cx="1979" cy="1840" r="19"/><circle class="rps" cx="1948" cy="1884" r="19"/><circle class="rps" cx="1898" cy="1867" r="19"/></g>
<g id="E-Rubrivivax"><circle class="rub" cx="2049" cy="1844" r="19"/></g>
</g>
<g id="nodes-F">
<g id="F-Azospirillum"><circle class="azl ring" cx="2463" cy="1412" r="100" stroke-width="38" stroke-dasharray="0.01 24.15"/></g>
<g id="F-Bradyrhizobium"><circle class="bra ring" cx="3035" cy="1411" r="96" stroke-width="38" stroke-dasharray="0.01 25.11"/></g>
<g id="F-Mesorhizobium"><circle class="mes ring" cx="2312" cy="2119" r="72" stroke-width="36" stroke-dasharray="0.01 28.25"/></g>
<g id="F-unidentified"><circle class="uni ring" cx="2932" cy="2058" r="141" stroke-width="40" stroke-dasharray="0.01 12.64"/></g>
<g id="F-Achromobacter"><circle class="ach" cx="2169" cy="1440" r="19"/><circle class="ach" cx="2212" cy="1450" r="19"/><circle class="ach" cx="2133" cy="1466" r="19"/><circle class="ach" cx="2231" cy="1489" r="19"/><circle class="ach" cx="2133" cy="1513" r="19"/><circle class="ach" cx="2212" cy="1530" r="19"/><circle class="ach" cx="2169" cy="1540" r="19"/></g>
<g id="F-Acidiphilium"><circle class="aci" cx="2789" cy="1550" r="19"/></g>
<g id="F-Cupriavidus"><circle class="cup" cx="2171" cy="1638" r="19"/></g>
<g id="F-Frankia"><circle class="fra" cx="2264" cy="1641" r="19"/></g>
<g id="F-Haliangium"><circle class="hal" cx="2421" cy="1641" r="19"/></g>
<g id="F-Herbaspirillun"><circle class="her" cx="2555" cy="1641" r="19"/><circle class="her" cx="2633" cy="1641" r="19"/></g>
<g id="F-Intrasporangium"><circle class="int" cx="2810" cy="1648" r="19"/></g>
<g id="F-Massilia"><circle class="mas" cx="3008" cy="1603" r="19"/><circle class="mas" cx="2970" cy="1642" r="19"/><circle class="mas" cx="3048" cy="1642" r="19"/><circle class="mas" cx="3008" cy="1681" r="19"/></g>
<g id="F-Micromonospora"><circle class="mic" cx="2195" cy="1811" r="19"/></g>
<g id="F-Oligotropha"><circle class="oli" cx="2304" cy="1811" r="19"/></g>
<g id="F-Planctomyces"><circle class="pla" cx="2401" cy="1809" r="19"/></g>
<g id="F-Pseudomonas"><circle class="psm" cx="2512" cy="1811" r="19"/></g>
<g id="F-Ralstonia"><circle class="ral" cx="2655" cy="1811" r="19"/><circle class="ral" cx="2617" cy="1852" r="19"/><circle class="ral" cx="2695" cy="1852" r="19"/><circle class="ral" cx="2645" cy="1883" r="19"/></g>
<g id="F-Nitrosocosmicus"><circle class="cnc" cx="2806" cy="1815" r="19"/></g>
<g id="F-Nitrosospira"><circle class="nsi" cx="2961" cy="1813" r="19"/></g>
<g id="F-Rhodopseudomonas"><circle class="rps" cx="3080" cy="1856" r="19"/><circle class="rps" cx="3158" cy="1856" r="19"/></g>
<g id="F-Rubrivivax"><circle class="rub" cx="3207" cy="1809" r="19"/></g>
</g>

<g id="legend-nodes">
<text class="hd" x="48" y="661">Nodes</text>
<rect class="ach" x="46" y="695" width="30" height="30" rx="3"/><text class="lg" x="98" y="724">Achromobacter</text>
<rect class="aci" x="46" y="744" width="30" height="30" rx="3"/><text class="lg" x="98" y="773">Acidiphilium</text>
<rect class="azo" x="46" y="793" width="30" height="30" rx="3"/><text class="lg" x="98" y="822">Azoarcus</text>
<rect class="azs" x="46" y="843" width="30" height="30" rx="3"/><text class="lg" x="98" y="872">Azospira</text>
<rect class="azl" x="46" y="893" width="30" height="30" rx="3"/><text class="lg" x="98" y="922">Azospirillum</text>
<rect class="bra" x="46" y="942" width="30" height="30" rx="3"/><text class="lg" x="98" y="971">Bradyrhizobium</text>
<rect class="bur" x="46" y="991" width="30" height="30" rx="3"/><text class="lg" x="98" y="1020">Burkholderia</text>
<rect class="cnc" x="46" y="1040" width="30" height="30" rx="3"/><text class="lg" x="98" y="1069">Candidatus_Nitrosocosmicus</text>
<rect class="cnt" x="46" y="1090" width="30" height="30" rx="3"/><text class="lg" x="98" y="1119">Candidatus_Nitrosotalea</text>
<rect class="cup" x="46" y="1139" width="30" height="30" rx="3"/><text class="lg" x="98" y="1168">Cupriavidus</text>
<rect class="fra" x="46" y="1188" width="30" height="30" rx="3"/><text class="lg" x="98" y="1217">Frankia</text>
<rect class="hal" x="46" y="1239" width="30" height="30" rx="3"/><text class="lg" x="98" y="1268">Haliangium</text>
<rect class="hmo" x="46" y="1288" width="30" height="30" rx="3"/><text class="lg" x="98" y="1317">Halomonas</text>
<rect class="her" x="46" y="1338" width="30" height="30" rx="3"/><text class="lg" x="98" y="1367">Herbaspirillun</text>
<rect class="ide" x="46" y="1387" width="30" height="30" rx="3"/><text class="lg" x="98" y="1416">Ideonella</text>
<rect class="int" x="46" y="1437" width="30" height="30" rx="3"/><text class="lg" x="98" y="1466">Intrasporangium</text>
<rect class="kri" x="46" y="1487" width="30" height="30" rx="3"/><text class="lg" x="98" y="1516">Kribbella</text>
<rect class="mag" x="46" y="1535" width="30" height="30" rx="3"/><text class="lg" x="98" y="1564">Magnetospirillum</text>
<rect class="mas" x="46" y="1584" width="30" height="30" rx="3"/><text class="lg" x="98" y="1613">Massilia</text>
<rect class="mes" x="46" y="1634" width="30" height="30" rx="3"/><text class="lg" x="98" y="1663">Mesorhizobium</text>
<rect class="met" x="46" y="1685" width="30" height="30" rx="3"/><text class="lg" x="98" y="1714">Methylobacterium</text>
<rect class="mic" x="46" y="1741" width="30" height="30" rx="3"/><text class="lg" x="98" y="1770">Micromonospora</text>
<rect class="nsp" x="46" y="1790" width="30" height="30" rx="3"/><text class="lg" x="98" y="1819">Nitrososphaera</text>
<rect class="nsi" x="646" y="635" width="30" height="30" rx="3"/><text class="lg" x="698" y="664">Nitrosospira</text>
<rect class="oli" x="646" y="693" width="30" height="30" rx="3"/><text class="lg" x="698" y="722">Oligotropha</text>
<rect class="pla" x="646" y="742" width="30" height="30" rx="3"/><text class="lg" x="698" y="771">Planctomyces</text>
<rect class="pol" x="646" y="792" width="30" height="30" rx="3"/><text class="lg" x="698" y="821">Polymorphum</text>
<rect class="psg" x="646" y="841" width="30" height="30" rx="3"/><text class="lg" x="698" y="870">Pseudogulbenkiania</text>
<rect class="psm" x="646" y="890" width="30" height="30" rx="3"/><text class="lg" x="698" y="919">Pseudomonas</text>
<rect class="ral" x="646" y="941" width="30" height="30" rx="3"/><text class="lg" x="698" y="970">Ralstonia</text>
<rect class="rhi" x="646" y="996" width="30" height="30" rx="3"/><text class="lg" x="698" y="1023">Rhizobium</text>
<rect class="rhd" x="646" y="1044" width="30" height="30" rx="3"/><text class="lg" x="698" y="1071">Rhodanobacter</text>
<rect class="rfx" x="646" y="1096" width="30" height="30" rx="3"/><text class="lg" x="698" y="1123">Rhodoferax</text>
<rect class="rps" x="646" y="1146" width="30" height="30" rx="3"/><text class="lg" x="698" y="1173">Rhodopseudomonas</text>
<rect class="rub" x="646" y="1191" width="30" height="30" rx="3"/><text class="lg" x="698" y="1219">Rubrivivax</text>
<rect class="sin" x="646" y="1245" width="30" height="30" rx="3"/><text class="lg" x="698" y="1273">Sinorhizobium</text>
<rect class="sca" x="646" y="1294" width="30" height="30" rx="3"/><text class="lg" x="698" y="1322">Sulfuricaulis</text>
<rect class="sfu" x="646" y="1350" width="30" height="30" rx="3"/><text class="lg" x="698" y="1378">Sulfurifustis</text>
<rect class="sta" x="646" y="1399" width="30" height="30" rx="3"/><text class="lg" x="698" y="1427">Sulfuritalea</text>
<rect class="tha" x="646" y="1449" width="30" height="30" rx="3"/><text class="lg" x="698" y="1477">Thauera</text>
<rect class="thi" x="646" y="1498" width="30" height="30" rx="3"/><text class="lg" x="698" y="1526">Thiothrix</text>
<rect class="zoo" x="646" y="1548" width="30" height="30" rx="3"/><text class="lg" x="698" y="1576">Zoogloea</text>
<rect class="uni" x="646" y="1596" width="30" height="30" rx="3"/><text class="lg" x="698" y="1624">unidentified</text>
</g>
<g id="legend-edges">
<text class="hd" x="647" y="1710">Edges</text>
<line x1="651" y1="1753" x2="756" y2="1753" stroke="#000" stroke-width="6"/>
<text class="lg" x="783" y="1767">Positive</text>
<line x1="651" y1="1799" x2="756" y2="1799" stroke="#000" stroke-width="6" stroke-dasharray="8 7"/>
<text class="lg" x="783" y="1813">Negative</text>
</g>

<g id="chart-G">
<line x1="300" y1="1872" x2="300" y2="2363" stroke="#000" stroke-width="3"/>
<path d="M288 2363H300M288 2298H300M288 2232H300M288 2167H300M288 2101H300M288 2036H300M288 1970H300M288 1905H300" stroke="#000" stroke-width="3"/>
<g>
<text class="ax" x="272" y="2375" text-anchor="end">0</text>
<text class="ax" x="272" y="2310" text-anchor="end">100</text>
<text class="ax" x="272" y="2244" text-anchor="end">200</text>
<text class="ax" x="272" y="2179" text-anchor="end">300</text>
<text class="ax" x="272" y="2113" text-anchor="end">400</text>
<text class="ax" x="272" y="2048" text-anchor="end">500</text>
<text class="ax" x="272" y="1982" text-anchor="end">600</text>
<text class="ax" x="272" y="1917" text-anchor="end">700</text>
</g>
<text transform="translate(188,2131) rotate(-90)" style="font-size:46px;text-anchor:middle">Number of edges</text>
<g id="bars">
<rect class="bar" x="331" y="2338" width="84" height="5" fill="#fff"/><rect class="bar" x="331" y="2343" width="84" height="20" fill="#FFB700"/>
<rect class="bar" x="424" y="2356" width="84" height="4" fill="#fff"/><rect class="bar" x="424" y="2360" width="84" height="3" fill="#FFB700"/>
<rect class="bar" x="539" y="2191" width="84" height="69" fill="#fff"/><rect class="bar" x="539" y="2260" width="84" height="103" fill="#FFB700"/>
<rect class="bar" x="632" y="2316" width="84" height="13" fill="#fff"/><rect class="bar" x="632" y="2329" width="84" height="34" fill="#FFB700"/>
<rect class="bar" x="741" y="2126" width="84" height="96" fill="#fff"/><rect class="bar" x="741" y="2222" width="84" height="141" fill="#FFB700"/>
<rect class="bar" x="839" y="1928" width="84" height="186" fill="#fff"/><rect class="bar" x="839" y="2114" width="84" height="249" fill="#FFB700"/>
</g>
<rect class="bar" x="335" y="1897" width="56" height="29" fill="#fff"/>
<rect class="bar" x="335" y="1936" width="56" height="28" fill="#FFB700"/>
<text class="ax" x="404" y="1927">Negative</text>
<text class="ax" x="404" y="1966">Positive</text>
<g>
<text class="ax" x="373" y="2402" text-anchor="middle">CK</text>
<text class="ax" x="466" y="2402" text-anchor="middle">AR</text>
<text class="ax" x="581" y="2402" text-anchor="middle">CK</text>
<text class="ax" x="674" y="2402" text-anchor="middle">AR</text>
<text class="ax" x="783" y="2402" text-anchor="middle">CK</text>
<text class="ax" x="881" y="2402" text-anchor="middle">AR</text>
<text x="421" y="2455" text-anchor="middle" style="font-size:44px">AOA</text>
<text x="628" y="2455" text-anchor="middle" style="font-size:44px;font-style:italic">nirS</text>
<text x="832" y="2455" text-anchor="middle" style="font-size:44px;font-style:italic">nosZ</text>
</g>
<path d="M300 2376V2465M523 2376V2465M728 2376V2465M941 2376V2465" stroke="#000" stroke-width="2.5" stroke-dasharray="14 9"/>
</g>
</svg>
